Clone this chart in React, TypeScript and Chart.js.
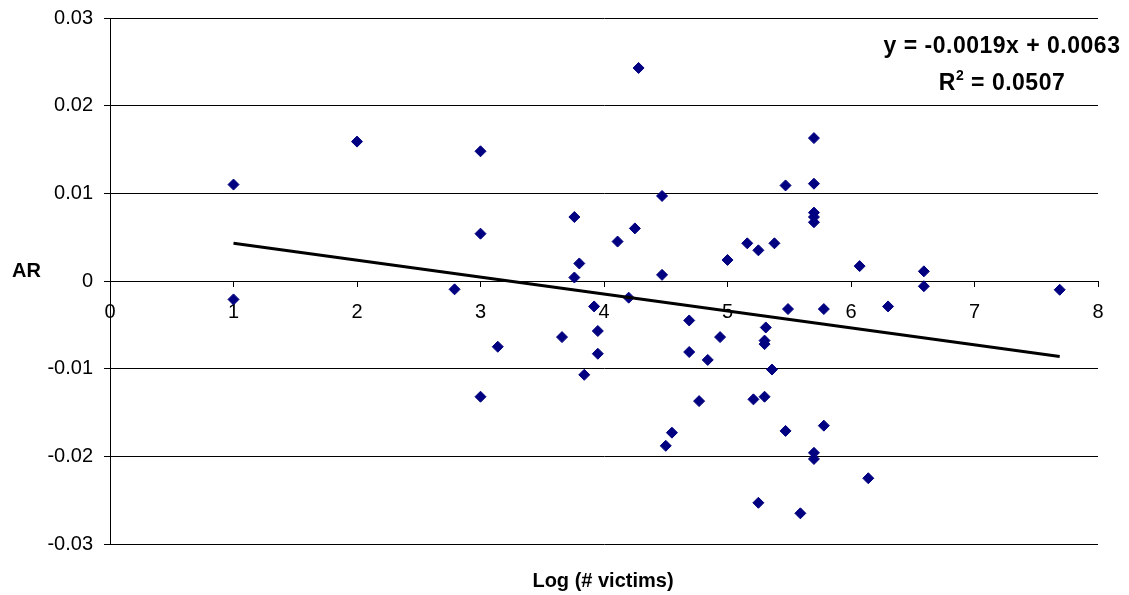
import React, { useEffect, useRef } from "react";
import { Chart, registerables } from "chart.js";

Chart.register(...registerables);

// Log (# victims)
const logVictims = [
  1.0, 1.0, 2.0, 2.79, 3.0, 3.0, 3.0, 3.14, 3.66, 3.76,
  3.76, 3.8, 3.84, 3.92, 3.95, 3.95, 4.11, 4.2, 4.25, 4.28,
  4.47, 4.47, 4.5, 4.55, 4.69, 4.69, 4.77, 4.84, 4.94, 5.0,
  5.16, 5.21, 5.25, 5.25, 5.3, 5.3, 5.31, 5.3, 5.36, 5.38,
  5.47, 5.49, 5.47, 5.59, 5.7, 5.7, 5.7, 5.7, 5.7, 5.7,
  5.7, 5.78, 5.78, 6.07, 6.14, 6.3, 6.59, 6.59, 7.69,
];

// AR
const abnormalReturns = [
  0.011, -0.0021, 0.0159, -0.00095, 0.0148, 0.0054, -0.0132, -0.0075, -0.0064, 0.0073,
  0.0004, 0.002, -0.0107, -0.0029, -0.0057, -0.0083, 0.0045, -0.0019, 0.006, 0.0243,
  0.0097, 0.0007, -0.0188, -0.0173, -0.0045, -0.0081, -0.0137, -0.009, -0.0064, 0.0024,
  0.0043, -0.0135, 0.0035, -0.0253, -0.0068, -0.0072, -0.0053, -0.0132, -0.0101, 0.0043,
  0.0109, -0.0032, -0.0171, -0.0265, 0.0163, 0.0111, 0.0078, 0.0073, 0.0067, -0.0196,
  -0.0203, -0.0032, -0.0165, 0.0017, -0.0225, -0.0029, 0.0011, -0.0006, -0.001,
];

// Linear trendline end points
const trendX = [1.0, 7.69];
const trendY = [0.0043, -0.0086];

const xTickValues = [0, 1, 2, 3, 4, 5, 6, 7, 8];
const xTickLabels = ["0", "1", "2", "3", "4", "5", "6", "7", "8"];
const yTickValues = [-0.03, -0.02, -0.01, 0, 0.01, 0.02, 0.03];
const yTickLabels = ["-0.03", "-0.02", "-0.01", "0", "0.01", "0.02", "0.03"];

const equationText = "y = -0.0019x + 0.0063";
const r2Value = "0.0507";
const xTitle = "Log (# victims)";
const yTitle = "AR";

const FONT = "'Liberation Sans', Arial, Helvetica, sans-serif";

export default function App() {
  const canvasRef = useRef<HTMLCanvasElement | null>(null);

  useEffect(() => {
    const canvas = canvasRef.current;
    if (!canvas) return;
    const chart = new Chart(canvas, {
      type: "scatter",
      data: {
        datasets: [
          {
            type: "line",
            data: trendX.map((x, i) => ({ x, y: trendY[i] })),
            borderColor: "#000000",
            borderWidth: 3,
            pointRadius: 0,
            fill: false,
            tension: 0,
          } as any,
          {
            data: logVictims.map((x, i) => ({ x, y: abnormalReturns[i] })),
            pointStyle: "rectRot",
            pointRadius: 5.5,
            backgroundColor: "#000080",
            borderColor: "#000080",
            borderWidth: 1,
          },
        ],
      },
      options: {
        responsive: false,
        animation: false,
        layout: { padding: { left: 0, right: 31, top: 18, bottom: 51 } },
        plugins: {
          legend: { display: false },
          tooltip: { enabled: false },
        },
        scales: {
          x: {
            type: "linear",
            position: { y: 0 } as any,
            min: 0,
            max: 8,
            afterBuildTicks: (s: any) => {
              s.ticks = xTickValues.map((v) => ({ value: v }));
            },
            ticks: {
              callback: (_v: any, i: number) => xTickLabels[i],
              font: { family: FONT, size: 20 },
              color: "#000000",
              padding: 14,
              maxRotation: 0,
              autoSkip: false,
            },
            grid: {
              drawOnChartArea: false,
              drawTicks: true,
              tickLength: 5,
              color: "#000000",
            },
            border: { display: true, color: "#000000", width: 1 },
          },
          y: {
            type: "linear",
            position: "left",
            min: -0.03,
            max: 0.03,
            afterBuildTicks: (s: any) => {
              s.ticks = yTickValues.map((v) => ({ value: v }));
            },
            afterFit: (s: any) => {
              s.width = 110;
              s.paddingTop = 0;
              s.paddingBottom = 0;
            },
            ticks: {
              callback: (_v: any, i: number) => yTickLabels[i],
              font: { family: FONT, size: 20 },
              color: "#000000",
              padding: 11,
              autoSkip: false,
            },
            grid: {
              color: "#000000",
              lineWidth: 1,
              tickLength: 6,
            },
            border: { display: true, color: "#000000", width: 1 },
          },
        },
      },
    });
    return () => chart.destroy();
  }, []);

  const textBase: React.CSSProperties = {
    position: "absolute",
    fontFamily: FONT,
    fontWeight: "bold",
    color: "#000",
    lineHeight: 1,
    whiteSpace: "nowrap",
  };

  return (
    <div
      style={{
        position: "absolute",
        left: 0,
        top: 0,
        width: 1129,
        height: 595,
        background: "#ffffff",
        overflow: "hidden",
      }}
    >
      <canvas
        ref={canvasRef}
        width={1129}
        height={595}
        style={{ display: "block", width: 1129, height: 595 }}
      />
      <div style={{ ...textBase, left: 12, top: 260, fontSize: 20 }}>{yTitle}</div>
      <div
        style={{
          ...textBase,
          left: 603,
          top: 570,
          fontSize: 20,
          transform: "translateX(-50%)",
        }}
      >
        {xTitle}
      </div>
      <div
        style={{
          ...textBase,
          left: 1002,
          top: 34,
          fontSize: 23,
          letterSpacing: 0.5,
          transform: "translateX(-50%)",
        }}
      >
        {equationText}
      </div>
      <div
        style={{
          ...textBase,
          left: 1002,
          top: 71,
          fontSize: 23,
          letterSpacing: 0.5,
          transform: "translateX(-50%)",
        }}
      >
        R<sup style={{ fontSize: 14, verticalAlign: "0.7em", lineHeight: 0 }}>2</sup> = {r2Value}
      </div>
    </div>
  );
}
